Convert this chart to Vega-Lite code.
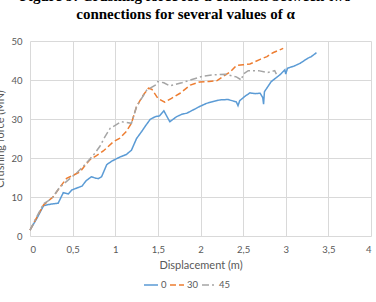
{
  "$schema": "https://vega.github.io/schema/vega-lite/v6.json",
  "width": 341,
  "height": 195,
  "autosize": {"type": "none"},
  "padding": {"left": 30, "top": 41, "right": 5, "bottom": 66},
  "background": "white",
  "title": {
    "text": ["Figure 9: Crushing force for a collision between two", "connections for several values of α"],
    "anchor": "middle",
    "font": "Liberation Serif",
    "fontSize": 15,
    "fontWeight": "bold",
    "color": "#000000",
    "lineHeight": 18,
    "baseline": "bottom",
    "offset": 16,
    "dy": 17,
    "dx": -15
  },
  "config": {
    "view": {"stroke": null},
    "axis": {
      "labelFont": "Lato",
      "titleFont": "Lato",
      "labelColor": "#595959",
      "titleColor": "#595959",
      "labelFontSize": 9.5,
      "titleFontSize": 11,
      "titleFontWeight": "normal",
      "gridColor": "#D9D9D9",
      "gridWidth": 1,
      "domain": false,
      "ticks": false
    },
    "legend": {"labelFont": "Lato", "labelColor": "#595959", "labelFontSize": 9.5}
  },
  "data": {
    "values": [
      {"d": 0, "F": 1.5, "alpha": "0"},
      {"d": 0.08, "F": 4.5, "alpha": "0"},
      {"d": 0.16, "F": 7.8, "alpha": "0"},
      {"d": 0.25, "F": 8.2, "alpha": "0"},
      {"d": 0.33, "F": 8.4, "alpha": "0"},
      {"d": 0.39, "F": 11.1, "alpha": "0"},
      {"d": 0.45, "F": 10.8, "alpha": "0"},
      {"d": 0.49, "F": 11.8, "alpha": "0"},
      {"d": 0.55, "F": 12.3, "alpha": "0"},
      {"d": 0.61, "F": 12.8, "alpha": "0"},
      {"d": 0.66, "F": 14.2, "alpha": "0"},
      {"d": 0.72, "F": 15.2, "alpha": "0"},
      {"d": 0.76, "F": 14.9, "alpha": "0"},
      {"d": 0.8, "F": 14.7, "alpha": "0"},
      {"d": 0.84, "F": 15.2, "alpha": "0"},
      {"d": 0.9, "F": 18.3, "alpha": "0"},
      {"d": 0.96, "F": 19.2, "alpha": "0"},
      {"d": 1.05, "F": 20.2, "alpha": "0"},
      {"d": 1.13, "F": 20.9, "alpha": "0"},
      {"d": 1.19, "F": 22, "alpha": "0"},
      {"d": 1.25, "F": 25, "alpha": "0"},
      {"d": 1.31, "F": 26.8, "alpha": "0"},
      {"d": 1.36, "F": 28.4, "alpha": "0"},
      {"d": 1.41, "F": 29.9, "alpha": "0"},
      {"d": 1.47, "F": 30.6, "alpha": "0"},
      {"d": 1.52, "F": 30.8, "alpha": "0"},
      {"d": 1.57, "F": 32.1, "alpha": "0"},
      {"d": 1.64, "F": 29.3, "alpha": "0"},
      {"d": 1.72, "F": 30.6, "alpha": "0"},
      {"d": 1.78, "F": 31.2, "alpha": "0"},
      {"d": 1.84, "F": 31.5, "alpha": "0"},
      {"d": 1.92, "F": 32.4, "alpha": "0"},
      {"d": 1.99, "F": 33.2, "alpha": "0"},
      {"d": 2.07, "F": 34.0, "alpha": "0"},
      {"d": 2.15, "F": 34.5, "alpha": "0"},
      {"d": 2.23, "F": 34.9, "alpha": "0"},
      {"d": 2.32, "F": 35.0, "alpha": "0"},
      {"d": 2.42, "F": 34.4, "alpha": "0"},
      {"d": 2.44, "F": 33.4, "alpha": "0"},
      {"d": 2.46, "F": 34.7, "alpha": "0"},
      {"d": 2.52, "F": 35.8, "alpha": "0"},
      {"d": 2.58, "F": 36.7, "alpha": "0"},
      {"d": 2.64, "F": 36.5, "alpha": "0"},
      {"d": 2.7, "F": 36.6, "alpha": "0"},
      {"d": 2.73, "F": 35.5, "alpha": "0"},
      {"d": 2.74, "F": 33.8, "alpha": "0"},
      {"d": 2.75, "F": 37.0, "alpha": "0"},
      {"d": 2.83, "F": 39.6, "alpha": "0"},
      {"d": 2.93, "F": 41.3, "alpha": "0"},
      {"d": 2.99, "F": 42.6, "alpha": "0"},
      {"d": 3.0, "F": 41.5, "alpha": "0"},
      {"d": 3.02, "F": 43, "alpha": "0"},
      {"d": 3.1, "F": 43.6, "alpha": "0"},
      {"d": 3.17, "F": 44.3, "alpha": "0"},
      {"d": 3.26, "F": 45.6, "alpha": "0"},
      {"d": 3.3, "F": 46.0, "alpha": "0"},
      {"d": 3.36, "F": 47, "alpha": "0"},

      {"d": 0, "F": 1.5, "alpha": "30"},
      {"d": 0.08, "F": 4.8, "alpha": "30"},
      {"d": 0.16, "F": 8, "alpha": "30"},
      {"d": 0.27, "F": 10, "alpha": "30"},
      {"d": 0.35, "F": 12.5, "alpha": "30"},
      {"d": 0.43, "F": 14.8, "alpha": "30"},
      {"d": 0.5, "F": 15.5, "alpha": "30"},
      {"d": 0.59, "F": 16.5, "alpha": "30"},
      {"d": 0.65, "F": 18.2, "alpha": "30"},
      {"d": 0.7, "F": 19.5, "alpha": "30"},
      {"d": 0.78, "F": 20.6, "alpha": "30"},
      {"d": 0.86, "F": 21.8, "alpha": "30"},
      {"d": 0.98, "F": 24.2, "alpha": "30"},
      {"d": 1.05, "F": 25, "alpha": "30"},
      {"d": 1.13, "F": 26.8, "alpha": "30"},
      {"d": 1.19, "F": 28.9, "alpha": "30"},
      {"d": 1.25, "F": 33.2, "alpha": "30"},
      {"d": 1.33, "F": 36.2, "alpha": "30"},
      {"d": 1.39, "F": 37.9, "alpha": "30"},
      {"d": 1.43, "F": 37.6, "alpha": "30"},
      {"d": 1.5, "F": 35.3, "alpha": "30"},
      {"d": 1.58, "F": 34.3, "alpha": "30"},
      {"d": 1.66, "F": 35.3, "alpha": "30"},
      {"d": 1.76, "F": 36.6, "alpha": "30"},
      {"d": 1.88, "F": 38.7, "alpha": "30"},
      {"d": 1.99, "F": 39.5, "alpha": "30"},
      {"d": 2.1, "F": 39.6, "alpha": "30"},
      {"d": 2.19, "F": 39.8, "alpha": "30"},
      {"d": 2.27, "F": 41.0, "alpha": "30"},
      {"d": 2.35, "F": 42.1, "alpha": "30"},
      {"d": 2.42, "F": 43.7, "alpha": "30"},
      {"d": 2.5, "F": 43.9, "alpha": "30"},
      {"d": 2.58, "F": 44.1, "alpha": "30"},
      {"d": 2.7, "F": 45.3, "alpha": "30"},
      {"d": 2.78, "F": 46.0, "alpha": "30"},
      {"d": 2.85, "F": 47, "alpha": "30"},
      {"d": 2.97, "F": 48.1, "alpha": "30"},

      {"d": 0, "F": 1.5, "alpha": "45"},
      {"d": 0.08, "F": 5, "alpha": "45"},
      {"d": 0.16, "F": 8.3, "alpha": "45"},
      {"d": 0.25, "F": 9.5, "alpha": "45"},
      {"d": 0.35, "F": 12.5, "alpha": "45"},
      {"d": 0.45, "F": 14.4, "alpha": "45"},
      {"d": 0.55, "F": 16.2, "alpha": "45"},
      {"d": 0.64, "F": 18.2, "alpha": "45"},
      {"d": 0.76, "F": 21.2, "alpha": "45"},
      {"d": 0.82, "F": 23, "alpha": "45"},
      {"d": 0.88, "F": 25.5, "alpha": "45"},
      {"d": 0.94, "F": 27.6, "alpha": "45"},
      {"d": 1.07, "F": 29.3, "alpha": "45"},
      {"d": 1.19, "F": 28.9, "alpha": "45"},
      {"d": 1.25, "F": 33.2, "alpha": "45"},
      {"d": 1.37, "F": 37.4, "alpha": "45"},
      {"d": 1.47, "F": 38.7, "alpha": "45"},
      {"d": 1.5, "F": 39.6, "alpha": "45"},
      {"d": 1.57, "F": 39.3, "alpha": "45"},
      {"d": 1.64, "F": 38.5, "alpha": "45"},
      {"d": 1.78, "F": 39.3, "alpha": "45"},
      {"d": 1.91, "F": 40.2, "alpha": "45"},
      {"d": 2.03, "F": 41, "alpha": "45"},
      {"d": 2.15, "F": 41.3, "alpha": "45"},
      {"d": 2.29, "F": 41.5, "alpha": "45"},
      {"d": 2.42, "F": 40.8, "alpha": "45"},
      {"d": 2.48, "F": 40, "alpha": "45"},
      {"d": 2.5, "F": 41.5, "alpha": "45"},
      {"d": 2.56, "F": 42.4, "alpha": "45"},
      {"d": 2.68, "F": 42.4, "alpha": "45"},
      {"d": 2.79, "F": 41.9, "alpha": "45"},
      {"d": 2.87, "F": 42.4, "alpha": "45"},
      {"d": 2.89, "F": 41.5, "alpha": "45"}
    ]
  },
  "mark": {"type": "line", "strokeWidth": 1.5},
  "encoding": {
    "x": {
      "field": "d",
      "type": "quantitative",
      "scale": {"domain": [0, 4], "nice": false},
      "axis": {
        "title": "Displacement (m)",
        "values": [0, 0.5, 1, 1.5, 2, 2.5, 3, 3.5, 4],
        "labelExpr": "replace(format(datum.value, ''), '.', ',')",
        "labelPadding": 8,
        "titlePadding": 6
      }
    },
    "y": {
      "field": "F",
      "type": "quantitative",
      "scale": {"domain": [0, 50], "nice": false},
      "axis": {
        "title": "Crushing force (MN)",
        "values": [0, 10, 20, 30, 40, 50],
        "labelPadding": 8,
        "titlePadding": 5
      }
    },
    "color": {
      "field": "alpha",
      "type": "nominal",
      "scale": {"domain": ["0", "30", "45"], "range": ["#5B9BD5", "#ED7D31", "#A5A5A5"]},
      "legend": {
        "title": null,
        "orient": "none",
        "legendX": 113,
        "legendY": 236,
        "direction": "horizontal",
        "gridAlign": "none",
        "symbolType": "stroke",
        "symbolSize": 196,
        "symbolStrokeWidth": 1.5,
        "columnPadding": 0,
        "labelOffset": 2
      }
    },
    "strokeDash": {
      "field": "alpha",
      "type": "nominal",
      "scale": {"domain": ["0", "30", "45"], "range": [[1, 0], [6, 3], [7, 3, 2, 3]]},
      "legend": null
    }
  }
}
